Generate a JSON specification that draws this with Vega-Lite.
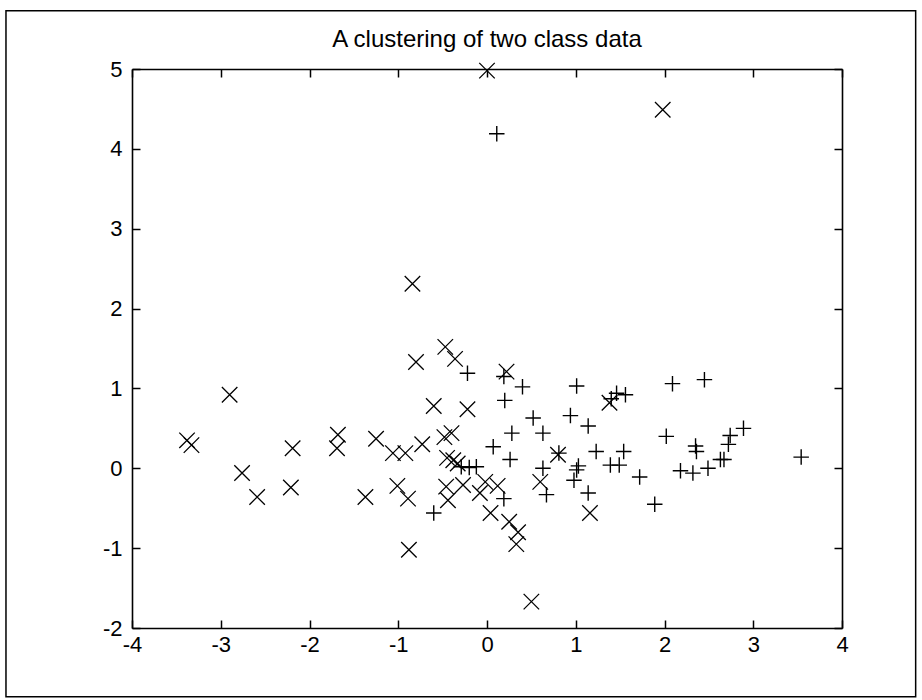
{
  "$schema": "https://vega.github.io/schema/vega-lite/v6.json",
  "width": 710,
  "height": 559,
  "autosize": "none",
  "padding": {"left": 132, "top": 69, "right": 80, "bottom": 72},
  "background": "white",
  "title": {"text": "A clustering of two class data", "fontSize": 24, "font": "Liberation Sans", "fontWeight": "normal", "color": "black", "anchor": "middle", "frame": "group", "baseline": "bottom", "offset": -66},
  "config": {
    "view": {"stroke": null},
    "axis": {"labelFont": "Liberation Sans", "labelFontSize": 22, "labelColor": "black", "domainColor": "black", "domainWidth": 1.6, "tickColor": "black", "tickWidth": 1.5, "tickSize": -8, "grid": false, "title": null}
  },
  "datasets": {
    "pts": [
      {"x": 0.0, "y": 4.98, "marker": "x"},
      {"x": 1.98, "y": 4.49, "marker": "x"},
      {"x": -0.84, "y": 2.31, "marker": "x"},
      {"x": -0.47, "y": 1.52, "marker": "x"},
      {"x": -0.8, "y": 1.33, "marker": "x"},
      {"x": -0.36, "y": 1.37, "marker": "x"},
      {"x": 0.22, "y": 1.21, "marker": "x"},
      {"x": -2.9, "y": 0.92, "marker": "x"},
      {"x": -0.6, "y": 0.78, "marker": "x"},
      {"x": -0.22, "y": 0.74, "marker": "x"},
      {"x": 1.38, "y": 0.82, "marker": "x"},
      {"x": -3.38, "y": 0.35, "marker": "x"},
      {"x": -3.33, "y": 0.29, "marker": "x"},
      {"x": -2.19, "y": 0.25, "marker": "x"},
      {"x": -1.68, "y": 0.42, "marker": "x"},
      {"x": -1.69, "y": 0.25, "marker": "x"},
      {"x": -1.25, "y": 0.37, "marker": "x"},
      {"x": -1.06, "y": 0.19, "marker": "x"},
      {"x": -0.92, "y": 0.19, "marker": "x"},
      {"x": -0.73, "y": 0.3, "marker": "x"},
      {"x": -0.48, "y": 0.39, "marker": "x"},
      {"x": -0.4, "y": 0.44, "marker": "x"},
      {"x": -0.45, "y": 0.13, "marker": "x"},
      {"x": -0.38, "y": 0.1, "marker": "x"},
      {"x": -0.33, "y": 0.06, "marker": "x"},
      {"x": -2.76, "y": -0.06, "marker": "x"},
      {"x": -2.59, "y": -0.36, "marker": "x"},
      {"x": -2.21, "y": -0.24, "marker": "x"},
      {"x": -1.37, "y": -0.36, "marker": "x"},
      {"x": -1.01, "y": -0.22, "marker": "x"},
      {"x": -0.89, "y": -0.38, "marker": "x"},
      {"x": -0.46, "y": -0.23, "marker": "x"},
      {"x": -0.44, "y": -0.4, "marker": "x"},
      {"x": -0.27, "y": -0.21, "marker": "x"},
      {"x": -0.08, "y": -0.31, "marker": "x"},
      {"x": -0.02, "y": -0.17, "marker": "x"},
      {"x": 0.12, "y": -0.22, "marker": "x"},
      {"x": 0.04, "y": -0.56, "marker": "x"},
      {"x": 0.25, "y": -0.67, "marker": "x"},
      {"x": 0.35, "y": -0.8, "marker": "x"},
      {"x": 0.33, "y": -0.95, "marker": "x"},
      {"x": -0.88, "y": -1.02, "marker": "x"},
      {"x": 0.5, "y": -1.67, "marker": "x"},
      {"x": 0.6, "y": -0.17, "marker": "x"},
      {"x": 1.16, "y": -0.56, "marker": "x"},
      {"x": 0.8, "y": 0.17, "marker": "x"},
      {"x": 0.11, "y": 4.19, "marker": "+"},
      {"x": -0.22, "y": 1.19, "marker": "+"},
      {"x": 0.19, "y": 1.15, "marker": "+"},
      {"x": 0.4, "y": 1.02, "marker": "+"},
      {"x": 1.01, "y": 1.03, "marker": "+"},
      {"x": 1.46, "y": 0.94, "marker": "+"},
      {"x": 1.56, "y": 0.92, "marker": "+"},
      {"x": 1.4, "y": 0.87, "marker": "+"},
      {"x": 2.09, "y": 1.06, "marker": "+"},
      {"x": 2.45, "y": 1.11, "marker": "+"},
      {"x": 0.2, "y": 0.85, "marker": "+"},
      {"x": 0.52, "y": 0.63, "marker": "+"},
      {"x": 0.94, "y": 0.66, "marker": "+"},
      {"x": 1.14, "y": 0.53, "marker": "+"},
      {"x": 0.28, "y": 0.44, "marker": "+"},
      {"x": 0.63, "y": 0.44, "marker": "+"},
      {"x": 0.07, "y": 0.27, "marker": "+"},
      {"x": 0.26, "y": 0.11, "marker": "+"},
      {"x": 0.81, "y": 0.19, "marker": "+"},
      {"x": 1.23, "y": 0.21, "marker": "+"},
      {"x": 1.54, "y": 0.21, "marker": "+"},
      {"x": 2.02, "y": 0.4, "marker": "+"},
      {"x": 2.35, "y": 0.28, "marker": "+"},
      {"x": 2.36, "y": 0.21, "marker": "+"},
      {"x": 2.74, "y": 0.41, "marker": "+"},
      {"x": 2.72, "y": 0.3, "marker": "+"},
      {"x": 2.89, "y": 0.5, "marker": "+"},
      {"x": 2.63, "y": 0.11, "marker": "+"},
      {"x": 2.67, "y": 0.11, "marker": "+"},
      {"x": 2.49, "y": 0.0, "marker": "+"},
      {"x": 2.32, "y": -0.06, "marker": "+"},
      {"x": 2.18, "y": -0.03, "marker": "+"},
      {"x": 1.39, "y": 0.04, "marker": "+"},
      {"x": 1.49, "y": 0.04, "marker": "+"},
      {"x": 1.72, "y": -0.11, "marker": "+"},
      {"x": 1.01, "y": -0.02, "marker": "+"},
      {"x": 1.03, "y": 0.03, "marker": "+"},
      {"x": 0.98, "y": -0.15, "marker": "+"},
      {"x": 0.63, "y": 0.0, "marker": "+"},
      {"x": 3.54, "y": 0.14, "marker": "+"},
      {"x": 1.89, "y": -0.45, "marker": "+"},
      {"x": 0.67, "y": -0.33, "marker": "+"},
      {"x": 1.14, "y": -0.31, "marker": "+"},
      {"x": 0.19, "y": -0.38, "marker": "+"},
      {"x": -0.6, "y": -0.56, "marker": "+"},
      {"x": -0.29, "y": 0.02, "marker": "+"},
      {"x": -0.2, "y": 0.01, "marker": "+"},
      {"x": -0.12, "y": 0.02, "marker": "+"}
    ]
  },
  "layer": [
    {
      "data": {"name": "pts"},
      "transform": [{"filter": "datum.marker === 'x'"}],
      "mark": {"type": "point", "shape": "M-1,-1L1,1M-1,1L1,-1", "filled": false, "stroke": "black", "strokeWidth": 1.3, "size": 240, "opacity": 1},
      "encoding": {
        "x": {"field": "x", "type": "quantitative", "scale": {"domain": [-4, 4], "nice": false, "zero": false},
          "axis": {"orient": "bottom", "values": [-4, -3, -2, -1, 0, 1, 2, 3, 4], "labelPadding": 14, "labelExpr": "'' + datum.value", "labelFlush": false}},
        "y": {"field": "y", "type": "quantitative", "scale": {"domain": [-2, 5], "nice": false, "zero": false},
          "axis": {"orient": "left", "values": [-2, -1, 0, 1, 2, 3, 4, 5], "labelPadding": 18, "labelExpr": "'' + datum.value", "labelFlush": false}}
      }
    },
    {
      "data": {"name": "pts"},
      "transform": [{"filter": "datum.marker === '+'"}],
      "mark": {"type": "point", "shape": "M-1,0L1,0M0,-1L0,1", "filled": false, "stroke": "black", "strokeWidth": 1.4, "size": 240, "opacity": 1},
      "encoding": {
        "x": {"field": "x", "type": "quantitative", "scale": {"domain": [-4, 4], "nice": false, "zero": false},
          "axis": {"orient": "top", "values": [-4, -3, -2, -1, 0, 1, 2, 3, 4], "labels": false}},
        "y": {"field": "y", "type": "quantitative", "scale": {"domain": [-2, 5], "nice": false, "zero": false},
          "axis": {"orient": "right", "values": [-2, -1, 0, 1, 2, 3, 4, 5], "labels": false}}
      }
    },
    {
      "data": {"values": [{}]},
      "mark": {"type": "rect", "fill": null, "fillOpacity": 0, "stroke": "black", "strokeWidth": 1.5, "clip": false},
      "encoding": {
        "x": {"datum": -5.42, "type": "quantitative", "scale": {"domain": [-4, 4], "nice": false, "zero": false}, "axis": null},
        "x2": {"datum": 4.83},
        "y": {"datum": 5.73, "type": "quantitative", "scale": {"domain": [-2, 5], "nice": false, "zero": false}, "axis": null},
        "y2": {"datum": -2.86}
      }
    }
  ],
  "resolve": {"axis": {"x": "independent", "y": "independent"}}
}
